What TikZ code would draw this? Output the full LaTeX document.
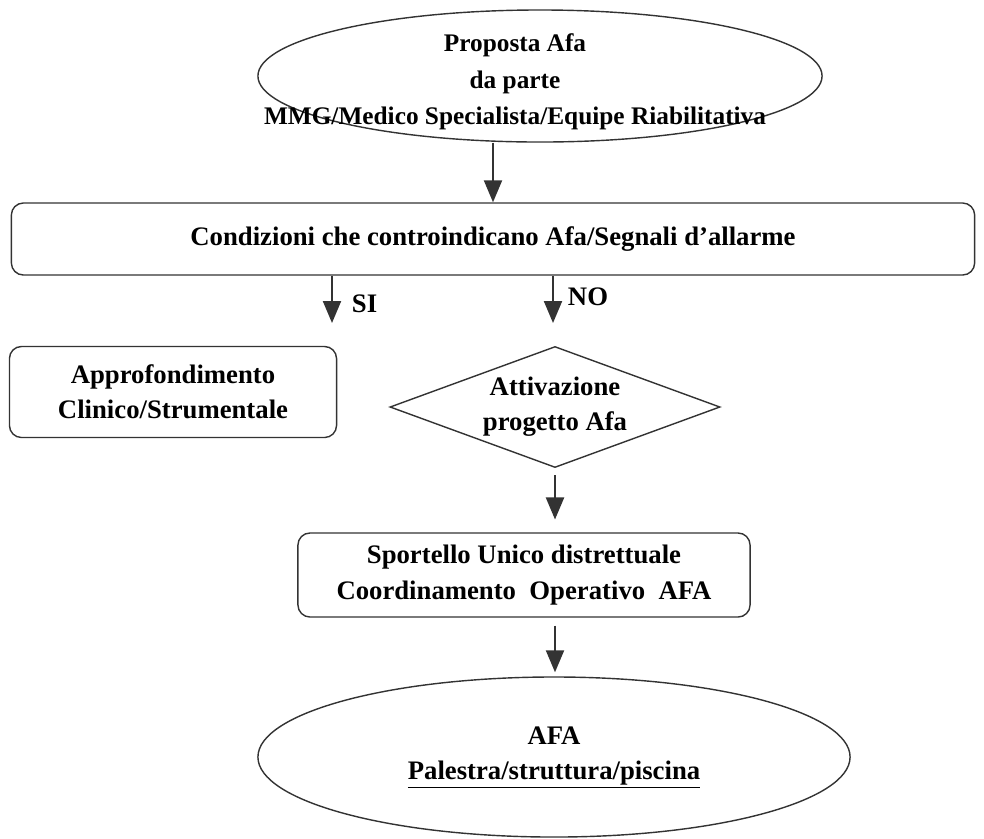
\documentclass[tikz,border=0pt]{standalone}
\usepackage{fontspec}
\setmainfont{Liberation Serif}
\usepackage{tikz}
\usetikzlibrary{shapes.geometric,arrows.meta}
\tikzstyle{txt}=[font=\bfseries\fontsize{19}{25}\selectfont,align=center,text=black]
\tikzstyle{box}=[draw=black!80,line width=1pt,rounded corners=0.3cm,txt]
\tikzstyle{oval}=[draw=black!80,line width=1pt,ellipse,inner sep=0pt]
\tikzstyle{arr}=[draw=black!80,line width=1.5pt,-{Triangle[length=0.55cm,width=0.45cm]}]

\begin{document}
\begin{tikzpicture}[x=0.025cm,y=-0.025cm]
      \useasboundingbox (0,0) rectangle (984,838);
      \node[oval,minimum width=14.1cm,minimum height=3.3cm] (prop) at (540,76) {};
      \node[txt,font=\bfseries\fontsize{18}{26}\selectfont] (propTxt) at (515,82) {Proposta Afa\\da parte\\MMG/Medico Specialista/Equipe Riabilitativa};
      \node[box,minimum width=24.075cm,minimum height=1.8cm] (cond) at (493,239) {Condizioni che controindicano Afa/Segnali d'allarme};
      \node[box,minimum width=8.175cm,minimum height=2.275cm] (appr) at (173,392) {Approfondimento\\Clinico/Strumentale};
      \node[draw=black!80,line width=1pt,diamond,aspect=2.7,inner sep=0pt,minimum width=8.25cm,minimum height=3.025cm,txt] (act) at (555,407) {Attivazione\\progetto Afa};
      \node[box,minimum width=11.3cm,minimum height=2.1cm] (sport) at (524,575) {Sportello Unico distrettuale\\Coordinamento~ Operativo~ AFA};
      \node[oval,minimum width=14.8cm,minimum height=4cm,txt] (afa) at (554,757) {AFA\\\underline{Palestra/struttura/piscina}};
      \coordinate (si) at (332,323);
      \coordinate (no) at (553,323);
      \draw[arr] (prop.south -| cond.north) -- (cond.north);
      \draw[arr] (cond.south -| si) -- (si);
      \draw[arr] (cond.south -| no) -- (no);
      \node[txt,anchor=west] (siTxt) at (347,304) {SI};
      \node[txt,anchor=west] (noTxt) at (563,297) {NO};
      \draw[arr,shorten <=0.18cm,shorten >=0.32cm] (act.south) -- (sport.north -| act.south);
      \draw[arr,shorten <=0.2cm,shorten >=0.1cm] (sport.south -| act.south) -- (afa.north -| act.south);
\end{tikzpicture}
\end{document}
